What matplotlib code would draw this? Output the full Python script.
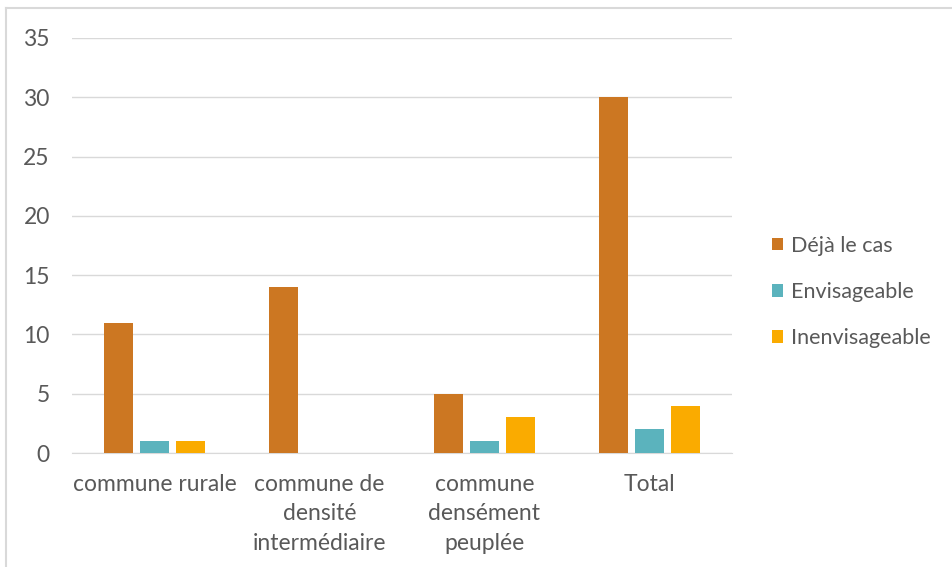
import numpy as np
from matplotlib import pyplot as plt
from matplotlib.lines import Line2D

categories = ['commune rurale', 'commune de\ndensité\nintermédiaire', 'commune\ndensément\npeuplée', 'Total']
deja = [11, 14, 5, 30]
envisageable = [1, 0, 1, 2]
inenvisageable = [1, 0, 3, 4]
series_names = ['Déjà le cas', 'Envisageable', 'Inenvisageable']
colors = ['#CC7722', '#5BB3BD', '#FAAB00']

plt.rcParams['font.family'] = ['Lato', 'DejaVu Sans']
grey = '#595959'
fs = 16.5

fig = plt.figure(figsize=(9.52, 5.67), dpi=100)
ax = fig.add_axes([72/952, 1 - 453/567, 660/952, 415/567])

x = np.arange(len(categories))
w = 0.176
off = 0.22
for i, (vals, name, c) in enumerate(zip([deja, envisageable, inenvisageable], series_names, colors)):
    ax.bar(x + (i - 1) * off, vals, width=w, color=c, label=name, zorder=3)

ax.set_xlim(-0.5, len(categories) - 0.5)
ax.set_ylim(0, 35)
ax.set_yticks(range(0, 36, 5))
ax.grid(axis='y', color='#D9D9D9', linewidth=1, zorder=0)
for s in ['top', 'right', 'left']:
    ax.spines[s].set_visible(False)
ax.spines['bottom'].set_color('#D9D9D9')
ax.set_xticks(x)
ax.set_xticklabels(categories, linespacing=1.5)
ax.tick_params(axis='both', length=0, labelsize=fs, colors=grey)
ax.tick_params(axis='y', pad=16)
ax.tick_params(axis='x', pad=15)

leg = fig.legend(loc='upper left', bbox_to_anchor=(763/952, 1 - 227/567), frameon=False,
                 fontsize=15.5, labelcolor=grey, handlelength=0.55, handleheight=0.55,
                 handletextpad=0.35, labelspacing=1.22, borderaxespad=0)

# figure border (left and top edges visible)
fig.add_artist(Line2D([6/952, 6/952], [0, 1 - 8/567], transform=fig.transFigure, color='#D9D9D9', lw=1.5))
fig.add_artist(Line2D([6/952, 1], [1 - 8/567, 1 - 8/567], transform=fig.transFigure, color='#D9D9D9', lw=1.5))

fig.savefig('out.png', dpi=100)
